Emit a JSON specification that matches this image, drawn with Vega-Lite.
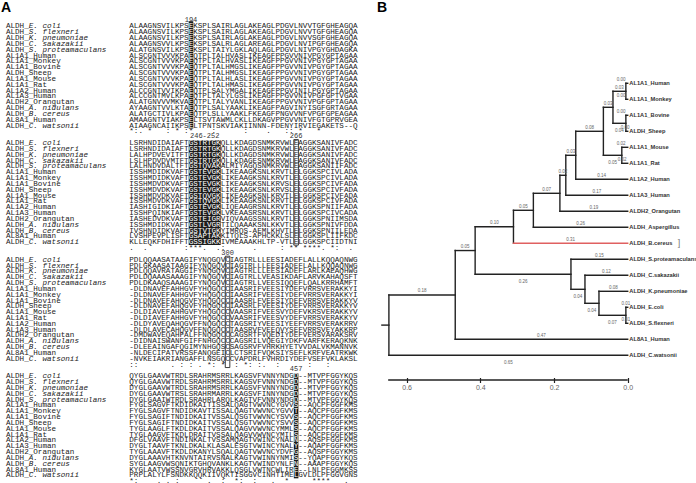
{
  "$schema": "https://vega.github.io/schema/vega-lite/v6.json",
  "padding": 0,
  "spacing": 0,
  "bounds": "flush",
  "background": "white",
  "config": {"view": {"stroke": null}},
  "datasets": {
    "sq": [
      {"r":0,"lab":"ALDH_","sp":"E. coli","s0":"ALAAGNSVILKPSEKSPLSAIRLAGLAKEAGLPDGVLNVVTGFGHEAGQA","s1":"LSRHNDIDAIAFTGSTRTGKQLLKDAGDSNMKRVWLEAGGKSANIVFADC","s2":"PDLQQAASATAAGIFYNQGQVCIAGTRLLLEESIADEFLALLKQQAQNWG","s3":"QYGLGAAVWTRDLSRAHRMSRRLKAGSVFVNNYNDGD--MTVPFGGYKQS"},
      {"r":1,"lab":"ALDH_","sp":"S. flexneri","s0":"ALAAGNSVILKPSEKSPLSAIRLAGLAKEAGLPDGVLNVVTGFGHEAGQA","s1":"LSRHNDIDAIAFTGSTRTGKQLLKDAGDSNMKRVWLEAGGKSANIVFADC","s2":"PDLGKAASATAAGIFYNQGQVCIAGTRLLLEESIADEFLALLKQQAQNWG","s3":"QYGLGAAVWTRDLSRAHRMSRRLKAGSVFVNNYNDGD--MTVPFGGYKQS"},
      {"r":2,"lab":"ALDH_","sp":"K. pneumoniae","s0":"ALAAGNSVILKPSEKSPLSAIRLAGLAKEAGLPDGVLNVVSGFGHEAGQA","s1":"LALHPDVEVITFTGSTRTGKQLLKDAGDSNMKRVWLEAGGKSANIVFADC","s2":"PDLQQAVRATAGGIFYNQGQVCIAGTRLLLEESIADEFLARLKAEAQHWG","s3":"DYGLGAAVWTRDLSRAHRMSRRLKAGSVFVNNYNDGD--MTVPFGGYKQS"},
      {"r":3,"lab":"ALDH_","sp":"C. sakazakii","s0":"ALAAGNSVVLKPSEKSPLSALRLAGLAREAGLPDGVLNVIPGFGHEAGQA","s1":"LSLHPDVDVMTFTGSTRTGKQLLKDAGESNMKRVWLEAGGKSANIVFADC","s2":"PDLDQAAASAAAGIFYNQGQVCIAGTRLLVEASIKDAFLARVKAHAQSFT","s3":"DYGLGAAVWTRSLSRAHRMARRLKAGSVFINNYNDGD--MTVPFGGYKQS"},
      {"r":4,"lab":"ALDH_","sp":"S. proteamaculans","s0":"ALATGNSVILKPSEKSPLTAIYLGKLAQLAGLPDGVLNIVPGYGHDAGKA","s1":"LALHNDVDALTFTGSTQVAKALMIYAGQSNMKRVWLEAGGKSANIIFADC","s2":"PDLDKAAQSAAAGIFYNQGQVCIAGTRLLVEESIQQEFLQALKRRHAMFT","s3":"DYGLGAAIWTRDLSRAHRLARQLKAGTVFVNNYNDGD--MTVPFGGYKQS"},
      {"r":5,"lab":"AL1A1_Human","sp":"","s0":"ALSCGNTVVVKPAEQTPLTALHVASLIKEAGFPPGVVNIVPGYGPTAGAA","s1":"ISSHMDIDKVAFTGSTEVGKLIKEAAGKSNLKRVTLELGGKSPCIVLADA","s2":"-DLDNAVEFAHHGVFYHQGQCCIAASRIFVEESIYDEFVRRSVERAKKYI","s3":"FYGLSAGVFTKDIDKAITISSALQAGTVWVNCYGVVS--AQCPFGGFKMS"},
      {"r":6,"lab":"AL1A1_Monkey","sp":"","s0":"ALSCGNTVVVKPAEQTPLTALHVASLIKEAGFPPGVVNIVPGYGPTAGAA","s1":"ISSHMDIDKVAFTGSTEVGKLIKEAAGKSNLKRVTLELGGKSPCIVLADA","s2":"-DLDNAVEFAHHGVFYHQGQCCIAASRIFVEESIYDEFVRRSVERAKKYI","s3":"FYGLSAGVFTNDIDKAVTISSALQAGTVWVNCYGVVT--AQCPFGGFKMS"},
      {"r":7,"lab":"AL1A1_Bovine","sp":"","s0":"ALSCGNTVVVKPAEQTPLTALHMGSLIKEAGFPPGVVNIVPGYGPTAGAA","s1":"ISSHMDVDKVAFTGSTEVGKLIKEAAGKSNLKRVSLELGGKSPCIVFADA","s2":"-DLDNAVEFAHQGVFYHQGQCCIAASRLFVEESIYDEFVRRSVERAKKYV","s3":"FYGLSAGIFTNDIDKAITVSSALQSGTVWVNCYSVVS--AQCPFGGFKMS"},
      {"r":8,"lab":"ALDH_Sheep","sp":"","s0":"ALSCGNTVVVKPAEQTPLTALHMGSLIKEAGFPPGVVNIVPGYGPTAGAA","s1":"ISSHMDVDKVAFTGSTEVGKLIKEAAGKSNLKRVSLELGGKSPCIVFADA","s2":"-DLDNAVEFAHQGVFYHQGQCCIAASRLFVEESIYDEFVRRSVERAKKYV","s3":"FYGLSAGIFTNDIDKAITVSSALQSGTVWVNCYSVVS--AQCPFGGFKMS"},
      {"r":9,"lab":"AL1A1_Mouse","sp":"","s0":"ALSCGNTVVVKPAEQTPLTALHLASLIKEAGFPPGVVNIVPGYGPTAGAA","s1":"ISSHMDVDKVAFTGSTQVGKLIKEAAGKSNLKRVTLELGGKSPCIVFADA","s2":"-DLDIAVEFAHHGVFYHQGQCCVAASRIFVEESVYDEFVKRSVERAKKYV","s3":"TYGLAAGLFTKDLDKAITVSSALQAGVVWVNCYMMLS--AQCPFGGFKMS"},
      {"r":10,"lab":"AL1A1_Rat","sp":"","s0":"ALSCGNTVVVKPAEQTPLTALHMASLIKEAGFPPGVVNIVPGYGPTAGAA","s1":"ISSHMDVDKVAFTGSTQVGKLIKEAAGKSNLKRVTLELGGKSPCIVFADA","s2":"-DLDIAVEFAHHGVFYHQGQCCVAASRIFVEESVYDEFVRRSVERAKKYV","s3":"TYGLAAGVFTKDLDRAITVSSALQAGVVWVNCYMILS--AQCPFGGFKMS"},
      {"r":11,"lab":"AL1A2_Human","sp":"","s0":"ALCCGNTVVIKPAEQTPLSALYMGALIKEAGFPPGVINILPGYGPTAGAA","s1":"IASHIGIDKIAFTGSTEVGKLIQEAAGRSNLKRVTLELGGKSPNIIFADA","s2":"-DLDYAVEQAHQGVFFNQGQCCTAGSRIYVEESIYEEFVRRSVERAKRRV","s3":"DFGLVAAVFTNDINKALTVSSAMQAGTVWINCYNALN--AQSPFGGFKMS"},
      {"r":12,"lab":"AL1A3_Human","sp":"","s0":"ALCCGNTMVLKPAEQTPLTALYLGSLIKEAGFPPGVVNIVPGFGPTVGAA","s1":"ISSHPQINKIAFTGSTEVGKLVKEAASRSNLKRVTLELGGKSPCIVCADA","s2":"-DLDLAVECAHQGVFFNQGQCCTAASRVFVEEQVYSEFVRRSVEYAKKRP","s3":"DYGLTAAVFTKNLDKALKLASALESGTVWINCYNALY--AQAPFGGFKMS"},
      {"r":13,"lab":"ALDH2_Orangutan","sp":"","s0":"ALATGNVVVMKVAEQTPLTALYVANLIKEAGFPPGVVNIVPGFGPTAGAA","s1":"IASHEDVDKVAFTGSTEIGRVIQVAAGSSNLKRVTLELGGKSPNIIMSDA","s2":"-DMDWAVEQAHFALFFNQGQCCCAGSRTFVQEDIYDEFVERSVARAKSRV","s3":"TYGLAAAVFTKDLDKANYLSQALQAGTVWVNCYDVFG--AQSPFGGYKMS"},
      {"r":14,"lab":"ALDH_","sp":"A. nidulans","s0":"AYAAGNTVVLKTAEQTPLSALYAAKLIKEAGFPAGVINYISGFGRTAGAA","s1":"ISSHMDIDKVAFTGSTLVGRTILQAAAKSNLKKVTLELGGKSPNIVFDDA","s2":"-DIDNAISWANFGIFFNHGQCCCAGSRILVQEGIYDKFVARFKERAQKNK","s3":"DYGLAAAVHTKNVNTAIRVSNALKAGTVWINNYNMIS--YQAPFGGYKQS"},
      {"r":15,"lab":"ALDH_","sp":"B. cereus","s0":"ALATGCTIVLKPAEQTPLSLLYAAKLFKEAGFPNGVVNFVPGFGPEAGAA","s1":"IVSHNDIDKVAFTGSTVTGKYIMRQS-AEMLKHVTLELGGKSPNIILEDA","s2":"-DLEEAINGAFQGIMYNHGQSCSAGSRVFVHRKHYETVVDALVKMANNVK","s3":"SYGLAAGVWSQNIKTGHQVANKLKAGTVWINDYNLFN--AAAPFGGYKQS"},
      {"r":16,"lab":"AL8A1_Human","sp":"","s0":"AMAAGNTVIAKPSELTSVTAWMLCKLLDKAGVPPGVVNIVFGTGPRVGEA","s1":"LVSHPEVPLISFTGSAPTAKKITQLS-APHCKKLSLELGGKSPLIIFKDC","s2":"-NLDECIPATVRSSFANQGEICLCTSRIFVQKSIYSEFLKRFVEATRKWK","s3":"KYGLAATVWSSNVGRVHRVAKKLQSGLVWTNCWLIRE--LNLPFGGMKSS"},
      {"r":17,"lab":"ALDH_","sp":"C. watsonii","s0":"AIAAGNCAIIKPSELTPNTSKVIAKIINNN-FDENYIRVIEGAKETS--Q","s1":"KLLEQKFDHIFFTGSSIGKKIVMEAAAKHLTP-VTLELGGKSPCIIDTNI","s2":"-NVKEIAKRIANGAFFLNSGQCCVAPDRLFVHRDIYDEFVSEFVKLAKSL","s3":"PRPLALYLFSNDKKQQKIIVQKTISGGVCINHTIMELGVLDLPFGGVGNS"}
    ],
    "cons": [
      {"b":0,"c":"*:. *   : * :*    :      :    .   :: *   *"},
      {"b":1,"c":".  .        :***.  .:      .     : ** ****. *:  ."},
      {"b":2,"c":" ::       . : : . *: *  : *: :.  :   .  :   :"},
      {"b":3,"c":"  *:    . . :      .  :  *:  :   .  *     ****   ."}
    ],
    "hdr": [
      {"t":"194","c":13.5,"line":-1},
      {"t":"246-252","c":16.5,"line":19},
      {"t":"266","c":36.5,"line":19},
      {"t":"300","c":21.5,"line":39},
      {"t":"457","c":36.5,"line":59}
    ],
    "hl": [
      {"t":"f","c1":13,"c2":14,"l1":-0.9,"l2":17.5},
      {"t":"f","c1":13,"c2":20,"l1":19.5,"l2":37.5},
      {"t":"f","c1":36,"c2":37,"l1":59.5,"l2":77.5},
      {"t":"b","c1":36,"c2":37,"l1":19.4,"l2":37.5},
      {"t":"b","c1":21,"c2":22,"l1":39.4,"l2":58.5}
    ],
    "edges": [
      {"a":0,"b":0.005,"y":1,"y2":1,"c":"k"},
      {"a":0,"b":0.005,"y":2,"y2":2,"c":"k"},
      {"a":0,"b":0.005,"y":3,"y2":3,"c":"k"},
      {"a":0,"b":0.005,"y":4,"y2":4,"c":"k"},
      {"a":0,"b":0.016,"y":5,"y2":5,"c":"k"},
      {"a":0,"b":0.016,"y":6,"y2":6,"c":"k"},
      {"a":0,"b":0.141,"y":7,"y2":7,"c":"k"},
      {"a":0,"b":0.168,"y":8,"y2":8,"c":"k"},
      {"a":0,"b":0.184,"y":9,"y2":9,"c":"k"},
      {"a":0,"b":0.256,"y":10,"y2":10,"c":"k"},
      {"a":0,"b":0.154,"y":12,"y2":12,"c":"k"},
      {"a":0,"b":0.116,"y":13,"y2":13,"c":"k"},
      {"a":0,"b":0.078,"y":14,"y2":14,"c":"k"},
      {"a":0,"b":0.005,"y":15,"y2":15,"c":"k"},
      {"a":0,"b":0.005,"y":16,"y2":16,"c":"k"},
      {"a":0,"b":0.468,"y":17,"y2":17,"c":"k"},
      {"a":0,"b":0.648,"y":18,"y2":18,"c":"k"},
      {"a":0.005,"b":0.04,"y":1.5,"y2":1.5,"c":"k"},
      {"a":0.005,"b":0.04,"y":3.5,"y2":3.5,"c":"k"},
      {"a":0.04,"b":0.066,"y":2.5,"y2":2.5,"c":"k"},
      {"a":0.016,"b":0.066,"y":5.5,"y2":5.5,"c":"k"},
      {"a":0.066,"b":0.141,"y":4,"y2":4,"c":"k"},
      {"a":0.141,"b":0.168,"y":5.5,"y2":5.5,"c":"k"},
      {"a":0.168,"b":0.184,"y":6.75,"y2":6.75,"c":"k"},
      {"a":0.184,"b":0.256,"y":7.875,"y2":7.875,"c":"k"},
      {"a":0.256,"b":0.31,"y":8.9375,"y2":8.9375,"c":"k"},
      {"a":0.31,"b":0.414,"y":9.96875,"y2":9.96875,"c":"k"},
      {"a":0.005,"b":0.078,"y":15.5,"y2":15.5,"c":"k"},
      {"a":0.078,"b":0.116,"y":14.75,"y2":14.75,"c":"k"},
      {"a":0.116,"b":0.154,"y":13.875,"y2":13.875,"c":"k"},
      {"a":0.154,"b":0.414,"y":12.9375,"y2":12.9375,"c":"k"},
      {"a":0.414,"b":0.468,"y":11.453,"y2":11.453,"c":"k"},
      {"a":0.468,"b":0.648,"y":14.227,"y2":14.227,"c":"k"},
      {"a":0.648,"b":0.667,"y":16.113,"y2":16.113,"c":"k"},
      {"a":0.005,"b":0.005,"y":1,"y2":2,"c":"k"},
      {"a":0.005,"b":0.005,"y":3,"y2":4,"c":"k"},
      {"a":0.04,"b":0.04,"y":1.5,"y2":3.5,"c":"k"},
      {"a":0.016,"b":0.016,"y":5,"y2":6,"c":"k"},
      {"a":0.066,"b":0.066,"y":2.5,"y2":5.5,"c":"k"},
      {"a":0.141,"b":0.141,"y":4,"y2":7,"c":"k"},
      {"a":0.168,"b":0.168,"y":5.5,"y2":8,"c":"k"},
      {"a":0.184,"b":0.184,"y":6.75,"y2":9,"c":"k"},
      {"a":0.256,"b":0.256,"y":7.875,"y2":10,"c":"k"},
      {"a":0.31,"b":0.31,"y":8.9375,"y2":11,"c":"k"},
      {"a":0.005,"b":0.005,"y":15,"y2":16,"c":"k"},
      {"a":0.078,"b":0.078,"y":14,"y2":15.5,"c":"k"},
      {"a":0.116,"b":0.116,"y":13,"y2":14.75,"c":"k"},
      {"a":0.154,"b":0.154,"y":12,"y2":13.875,"c":"k"},
      {"a":0.414,"b":0.414,"y":9.96875,"y2":12.9375,"c":"k"},
      {"a":0.468,"b":0.468,"y":11.453,"y2":17,"c":"k"},
      {"a":0.648,"b":0.648,"y":14.227,"y2":18,"c":"k"},
      {"a":0,"b":0.31,"y":11,"y2":11,"c":"r"}
    ],
    "tips": [
      {"n":"AL1A1_Human","i":1},{"n":"AL1A1_Monkey","i":2},{"n":"AL1A1_Bovine","i":3},{"n":"ALDH_Sheep","i":4},
      {"n":"AL1A1_Mouse","i":5},{"n":"AL1A1_Rat","i":6},{"n":"AL1A2_Human","i":7},{"n":"AL1A3_Human","i":8},
      {"n":"ALDH2_Orangutan","i":9},{"n":"ALDH_Aspergillus","i":10},{"n":"ALDH_B.cereus","i":11},
      {"n":"ALDH_S.proteamaculans","i":12},{"n":"ALDH_C.sakazakii","i":13},{"n":"ALDH_K.pneumoniae","i":14},
      {"n":"ALDH_E.coli","i":15},{"n":"ALDH_S.flexneri","i":16},{"n":"AL8A1_Human","i":17},{"n":"ALDH_C.watsonii","i":18}
    ],
    "bl": [
      {"t":"0.00","h":0.018,"y":1,"p":"a"},
      {"t":"0.00","h":0.018,"y":2,"p":"a"},
      {"t":"0.00","h":0.018,"y":3,"p":"a"},
      {"t":"0.00","h":0.007,"y":4,"p":"a"},
      {"t":"0.02","h":0.018,"y":5,"p":"a"},
      {"t":"0.02","h":0.015,"y":6,"p":"a"},
      {"t":"0.14","h":0.0705,"y":7,"p":"a"},
      {"t":"0.17","h":0.084,"y":8,"p":"a"},
      {"t":"0.19","h":0.092,"y":9,"p":"a"},
      {"t":"0.26","h":0.128,"y":10,"p":"a"},
      {"t":"0.31","h":0.155,"y":11,"p":"a"},
      {"t":"0.15","h":0.077,"y":12,"p":"a"},
      {"t":"0.12","h":0.058,"y":13,"p":"a"},
      {"t":"0.08","h":0.039,"y":14,"p":"a"},
      {"t":"0.01","h":0.005,"y":15,"p":"a"},
      {"t":"0.01","h":0.005,"y":16,"p":"a"},
      {"t":"0.47","h":0.234,"y":17,"p":"a"},
      {"t":"0.65","h":0.324,"y":18,"p":"b"},
      {"t":"0.03","h":0.0225,"y":1.5,"p":"a"},
      {"t":"0.04","h":0.0225,"y":3.5,"p":"b"},
      {"t":"0.03","h":0.053,"y":2.5,"p":"a"},
      {"t":"0.05","h":0.041,"y":5.5,"p":"b"},
      {"t":"0.08","h":0.1035,"y":4,"p":"a"},
      {"t":"0.03","h":0.1545,"y":5.5,"p":"a"},
      {"t":"0.02","h":0.176,"y":6.75,"p":"a"},
      {"t":"0.07","h":0.22,"y":7.875,"p":"a"},
      {"t":"0.05","h":0.283,"y":8.9375,"p":"a"},
      {"t":"0.10","h":0.362,"y":9.96875,"p":"a"},
      {"t":"0.07","h":0.0415,"y":15.5,"p":"b"},
      {"t":"0.04","h":0.097,"y":14.75,"p":"b"},
      {"t":"0.04","h":0.135,"y":13.875,"p":"b"},
      {"t":"0.26","h":0.284,"y":12.9375,"p":"b"},
      {"t":"0.05","h":0.441,"y":11.453,"p":"a"},
      {"t":"0.18","h":0.558,"y":14.227,"p":"a"}
    ]
  },
  "hconcat": [
    {
      "width": 362,
      "height": 483,
      "layer": [
        {
          "data": {"name": "hl"},
          "transform": [{"filter": "datum.t == 'f'"}],
          "mark": {"type": "rect", "fill": "#1c1c1c"},
          "encoding": {
            "x": {"field": "c1", "type": "quantitative", "scale": {"domain": [-28.293, 50.919], "nice": false, "zero": false}, "axis": null},
            "x2": {"field": "c2"},
            "y": {"field": "l1", "type": "quantitative", "scale": {"domain": [-4.545, 78.302], "nice": false, "zero": false, "reverse": true}, "axis": null},
            "y2": {"field": "l2"}
          }
        },
        {
          "data": {"name": "sq"},
          "transform": [
            {"fold": ["s0", "s1", "s2", "s3"], "as": ["k", "s"]},
            {"calculate": "toNumber(substring(datum.k, 1)) * 20 + datum.r", "as": "line"}
          ],
          "mark": {"type": "text", "font": "Liberation Mono", "fontSize": 7.62, "align": "left", "baseline": "middle", "fill": "#222"},
          "encoding": {
            "x": {"datum": -27, "type": "quantitative", "scale": {"domain": [-28.293, 50.919], "nice": false, "zero": false}, "axis": null},
            "y": {"field": "line", "type": "quantitative", "scale": {"domain": [-4.545, 78.302], "nice": false, "zero": false, "reverse": true}, "axis": null},
            "text": {"field": "lab"}
          }
        },
        {
          "data": {"name": "sq"},
          "transform": [
            {"filter": "datum.sp != ''"},
            {"fold": ["s0", "s1", "s2", "s3"], "as": ["k", "s"]},
            {"calculate": "toNumber(substring(datum.k, 1)) * 20 + datum.r", "as": "line"}
          ],
          "mark": {"type": "text", "font": "Liberation Mono", "fontStyle": "italic", "fontSize": 7.62, "align": "left", "baseline": "middle", "fill": "#222"},
          "encoding": {
            "x": {"datum": -22, "type": "quantitative", "scale": {"domain": [-28.293, 50.919], "nice": false, "zero": false}, "axis": null},
            "y": {"field": "line", "type": "quantitative", "scale": {"domain": [-4.545, 78.302], "nice": false, "zero": false, "reverse": true}, "axis": null},
            "text": {"field": "sp"}
          }
        },
        {
          "data": {"name": "sq"},
          "transform": [
            {"fold": ["s0", "s1", "s2", "s3"], "as": ["k", "s"]},
            {"calculate": "toNumber(substring(datum.k, 1)) * 20 + datum.r", "as": "line"}
          ],
          "mark": {"type": "text", "font": "Liberation Mono", "fontSize": 7.62, "align": "left", "baseline": "middle", "fill": "#222"},
          "encoding": {
            "x": {"datum": 0, "type": "quantitative", "scale": {"domain": [-28.293, 50.919], "nice": false, "zero": false}, "axis": null},
            "y": {"field": "line", "type": "quantitative", "scale": {"domain": [-4.545, 78.302], "nice": false, "zero": false, "reverse": true}, "axis": null},
            "text": {"field": "s"}
          }
        },
        {
          "data": {"name": "sq"},
          "transform": [
            {"calculate": "substring(datum.s0, 13, 14)", "as": "h"},
            {"calculate": "datum.r", "as": "line"}
          ],
          "mark": {"type": "text", "font": "Liberation Mono", "fontSize": 7.62, "align": "left", "baseline": "middle", "fill": "white"},
          "encoding": {
            "x": {"datum": 13, "type": "quantitative", "scale": {"domain": [-28.293, 50.919], "nice": false, "zero": false}, "axis": null},
            "y": {"field": "line", "type": "quantitative", "scale": {"domain": [-4.545, 78.302], "nice": false, "zero": false, "reverse": true}, "axis": null},
            "text": {"field": "h"}
          }
        },
        {
          "data": {"name": "sq"},
          "transform": [
            {"calculate": "substring(datum.s1, 13, 20)", "as": "h"},
            {"calculate": "20 + datum.r", "as": "line"}
          ],
          "mark": {"type": "text", "font": "Liberation Mono", "fontSize": 7.62, "align": "left", "baseline": "middle", "fill": "white"},
          "encoding": {
            "x": {"datum": 13, "type": "quantitative", "scale": {"domain": [-28.293, 50.919], "nice": false, "zero": false}, "axis": null},
            "y": {"field": "line", "type": "quantitative", "scale": {"domain": [-4.545, 78.302], "nice": false, "zero": false, "reverse": true}, "axis": null},
            "text": {"field": "h"}
          }
        },
        {
          "data": {"name": "sq"},
          "transform": [
            {"calculate": "substring(datum.s3, 36, 37)", "as": "h"},
            {"calculate": "60 + datum.r", "as": "line"}
          ],
          "mark": {"type": "text", "font": "Liberation Mono", "fontSize": 7.62, "align": "left", "baseline": "middle", "fill": "white"},
          "encoding": {
            "x": {"datum": 36, "type": "quantitative", "scale": {"domain": [-28.293, 50.919], "nice": false, "zero": false}, "axis": null},
            "y": {"field": "line", "type": "quantitative", "scale": {"domain": [-4.545, 78.302], "nice": false, "zero": false, "reverse": true}, "axis": null},
            "text": {"field": "h"}
          }
        },
        {
          "data": {"name": "hl"},
          "transform": [{"filter": "datum.t == 'b'"}],
          "mark": {"type": "rect", "fill": null, "stroke": "#222", "strokeWidth": 0.9},
          "encoding": {
            "x": {"field": "c1", "type": "quantitative", "scale": {"domain": [-28.293, 50.919], "nice": false, "zero": false}, "axis": null},
            "x2": {"field": "c2"},
            "y": {"field": "l1", "type": "quantitative", "scale": {"domain": [-4.545, 78.302], "nice": false, "zero": false, "reverse": true}, "axis": null},
            "y2": {"field": "l2"}
          }
        },
        {
          "data": {"name": "cons"},
          "transform": [
            {"calculate": "datum.b * 20 + 18", "as": "line"},
            {"calculate": "replace(datum.c, / /g, '\u00a0')", "as": "cc"}
          ],
          "mark": {"type": "text", "font": "Liberation Mono", "fontSize": 7.62, "align": "left", "baseline": "middle", "fill": "#222"},
          "encoding": {
            "x": {"datum": 0, "type": "quantitative", "scale": {"domain": [-28.293, 50.919], "nice": false, "zero": false}, "axis": null},
            "y": {"field": "line", "type": "quantitative", "scale": {"domain": [-4.545, 78.302], "nice": false, "zero": false, "reverse": true}, "axis": null},
            "text": {"field": "cc"}
          }
        },
        {
          "data": {"name": "hdr"},
          "mark": {"type": "text", "font": "Liberation Mono", "fontSize": 7, "align": "center", "baseline": "middle", "fill": "#333", "dy": -1},
          "encoding": {
            "x": {"field": "c", "type": "quantitative", "scale": {"domain": [-28.293, 50.919], "nice": false, "zero": false}, "axis": null},
            "y": {"field": "line", "type": "quantitative", "scale": {"domain": [-4.545, 78.302], "nice": false, "zero": false, "reverse": true}, "axis": null},
            "text": {"field": "t"}
          }
        },
        {
          "data": {"values": [{"t": "A"}]},
          "mark": {"type": "text", "font": "Liberation Sans", "fontWeight": "bold", "fontSize": 14, "align": "left", "baseline": "middle", "fill": "#000"},
          "encoding": {
            "x": {"datum": -28.1, "type": "quantitative", "scale": {"domain": [-28.293, 50.919], "nice": false, "zero": false}, "axis": null},
            "y": {"datum": -3.17, "type": "quantitative", "scale": {"domain": [-4.545, 78.302], "nice": false, "zero": false, "reverse": true}, "axis": null},
            "text": {"field": "t"}
          }
        }
      ]
    },
    {
      "width": 334,
      "height": 380,
      "layer": [
        {
          "data": {"name": "edges"},
          "mark": {"type": "rule", "strokeWidth": 1.4, "strokeCap": "square"},
          "encoding": {
            "x": {"field": "a", "type": "quantitative", "scale": {"domain": [-0.1853, 0.721], "nice": false, "zero": false, "reverse": true},
                  "axis": {"values": [0, 0.2, 0.4, 0.6], "format": ".1f", "domain": false, "grid": false, "ticks": true, "tickSize": 5, "tickWidth": 1.2, "tickColor": "#222", "offset": -2.5, "labelFont": "Liberation Sans", "labelFontSize": 7, "labelColor": "#666", "labelPadding": 1, "title": null}},
            "x2": {"field": "b"},
            "y": {"field": "y", "type": "quantitative", "scale": {"domain": [-4.206, 19.544], "nice": false, "zero": false, "reverse": true}, "axis": null},
            "y2": {"field": "y2"},
            "color": {"field": "c", "type": "nominal", "scale": {"domain": ["k", "r"], "range": ["#222222", "#e06060"]}, "legend": null}
          }
        },
        {
          "data": {"values": [{}]},
          "mark": {"type": "rule", "strokeWidth": 1.5, "color": "#222"},
          "encoding": {
            "x": {"datum": 0.65, "type": "quantitative", "scale": {"domain": [-0.1853, 0.721], "nice": false, "zero": false, "reverse": true}},
            "x2": {"datum": 0},
            "y": {"datum": 19.544, "type": "quantitative", "scale": {"domain": [-4.206, 19.544], "nice": false, "zero": false, "reverse": true}, "axis": null}
          }
        },
        {
          "data": {"name": "tips"},
          "mark": {"type": "text", "font": "Liberation Sans", "fontWeight": "bold", "fontSize": 5.7, "align": "left", "baseline": "middle", "fill": "#333"},
          "encoding": {
            "x": {"datum": -0.0045, "type": "quantitative", "scale": {"domain": [-0.1853, 0.721], "nice": false, "zero": false, "reverse": true}},
            "y": {"field": "i", "type": "quantitative", "scale": {"domain": [-4.206, 19.544], "nice": false, "zero": false, "reverse": true}, "axis": null},
            "text": {"field": "n"}
          }
        },
        {
          "data": {"name": "bl"},
          "transform": [{"filter": "datum.p == 'a'"}],
          "mark": {"type": "text", "font": "Liberation Sans", "fontSize": 4.5, "align": "center", "baseline": "middle", "fill": "#666", "dy": -3.5},
          "encoding": {
            "x": {"field": "h", "type": "quantitative", "scale": {"domain": [-0.1853, 0.721], "nice": false, "zero": false, "reverse": true}},
            "y": {"field": "y", "type": "quantitative", "scale": {"domain": [-4.206, 19.544], "nice": false, "zero": false, "reverse": true}, "axis": null},
            "text": {"field": "t"}
          }
        },
        {
          "data": {"name": "bl"},
          "transform": [{"filter": "datum.p == 'b'"}],
          "mark": {"type": "text", "font": "Liberation Sans", "fontSize": 4.5, "align": "center", "baseline": "middle", "fill": "#666", "dy": 7.8},
          "encoding": {
            "x": {"field": "h", "type": "quantitative", "scale": {"domain": [-0.1853, 0.721], "nice": false, "zero": false, "reverse": true}},
            "y": {"field": "y", "type": "quantitative", "scale": {"domain": [-4.206, 19.544], "nice": false, "zero": false, "reverse": true}, "axis": null},
            "text": {"field": "t"}
          }
        },
        {
          "data": {"values": [{"t": "]"}]},
          "mark": {"type": "text", "font": "Liberation Sans", "fontSize": 9, "align": "center", "baseline": "middle", "fill": "#777"},
          "encoding": {
            "x": {"datum": -0.139, "type": "quantitative", "scale": {"domain": [-0.1853, 0.721], "nice": false, "zero": false, "reverse": true}},
            "y": {"datum": 11, "type": "quantitative", "scale": {"domain": [-4.206, 19.544], "nice": false, "zero": false, "reverse": true}, "axis": null},
            "text": {"field": "t"}
          }
        },
        {
          "data": {"values": [{"t": "B"}]},
          "mark": {"type": "text", "font": "Liberation Sans", "fontWeight": "bold", "fontSize": 14, "align": "left", "baseline": "middle", "fill": "#000"},
          "encoding": {
            "x": {"datum": 0.68, "type": "quantitative", "scale": {"domain": [-0.1853, 0.721], "nice": false, "zero": false, "reverse": true}},
            "y": {"datum": -3.7, "type": "quantitative", "scale": {"domain": [-4.206, 19.544], "nice": false, "zero": false, "reverse": true}, "axis": null},
            "text": {"field": "t"}
          }
        }
      ]
    }
  ]
}
